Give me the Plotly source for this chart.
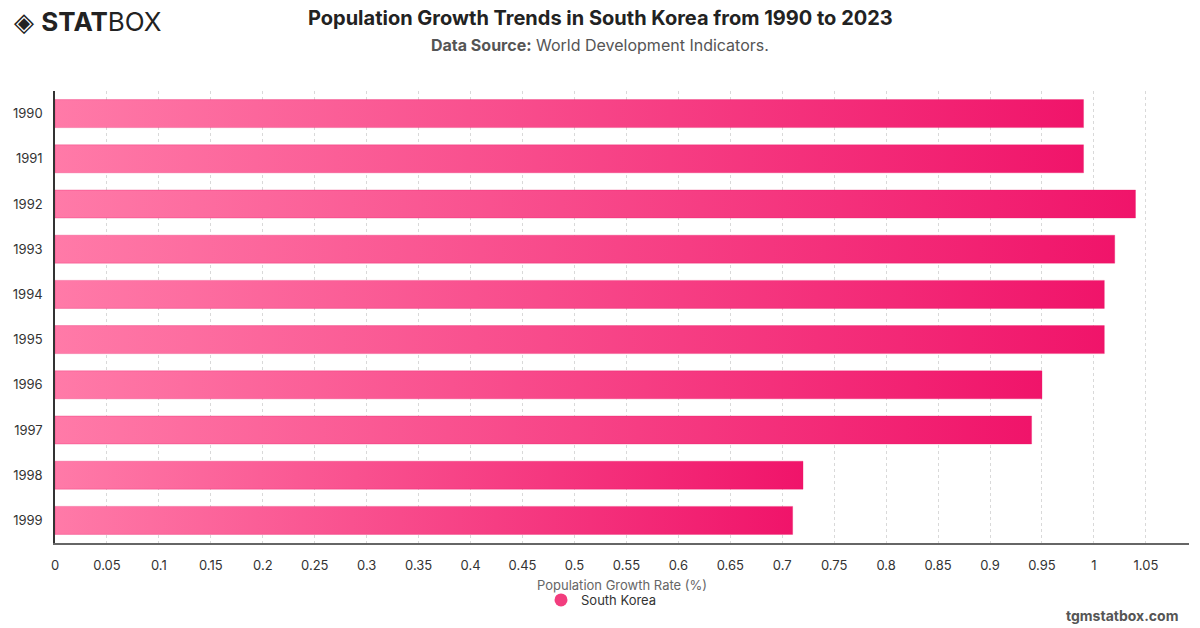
import plotly.graph_objects as go

years = ["1990", "1991", "1992", "1993", "1994", "1995", "1996", "1997", "1998", "1999"]
growth = [0.99, 0.99, 1.04, 1.02, 1.01, 1.01, 0.95, 0.94, 0.72, 0.71]
tick_vals = [round(0.05 * i, 2) for i in range(22)]
tick_text = ["0" if v == 0 else ("1" if v == 1 else f"{v:g}") for v in tick_vals]

half = 0.31
fig = go.Figure()
for i, (yr, v) in enumerate(zip(years, growth)):
    fig.add_trace(go.Scatter(
        x=[0, v, v, 0, 0],
        y=[i - half, i - half, i + half, i + half, i - half],
        mode="lines", fill="toself",
        line=dict(width=0.6, color="rgba(235,20,100,0.5)"),
        fillgradient=dict(type="horizontal",
                          colorscale=[[0, "#ff7aa8"], [1, "#f0146a"]]),
        showlegend=False, hoverinfo="text", text=f"{yr}: {v}",
    ))

fig.add_trace(go.Scatter(
    x=[None], y=[None], mode="markers", name="South Korea",
    marker=dict(symbol="circle", size=13, color="#f23d7e"),
))

fig.update_layout(
    width=1200, height=628,
    margin=dict(l=55, r=11, t=91, b=85),
    plot_bgcolor="white", paper_bgcolor="white",
    font=dict(family="Inter, Roboto, sans-serif", color="#333", size=13),
    xaxis=dict(range=[0, 1.0915], tickvals=tick_vals, ticktext=tick_text,
               showgrid=True, gridcolor="#d9d9d9", griddash="dot", gridwidth=1,
               zeroline=False, showline=True, linecolor="#666", linewidth=1.5,
               ticks="", ticklabelstandoff=10, tickfont=dict(size=13, color="#333")),
    yaxis=dict(range=[len(years) - 0.5, -0.5], tickvals=list(range(len(years))),
               ticktext=years, showgrid=False, zeroline=False,
               showline=True, linecolor="#333", linewidth=1.5, ticks="",
               ticklabelstandoff=8, tickfont=dict(size=13, color="#333")),
    showlegend=True,
    legend=dict(orientation="h", x=(541 - 55) / 1134, xanchor="left", y=-0.126, yanchor="middle",
                font=dict(size=13, color="#333"), itemwidth=30),
)

fig.add_annotation(text="Population Growth Rate (%)", xref="paper", yref="paper",
                   x=0.5, y=-0.0927, xanchor="center", yanchor="middle",
                   showarrow=False, font=dict(size=13, color="#666"))
fig.add_annotation(text="<b>Population Growth Trends in South Korea from 1990 to 2023</b>",
                   xref="paper", yref="paper", x=(600 - 55) / 1134,
                   y=1 + (91 - 18) / 452, xanchor="center", yanchor="middle",
                   showarrow=False, font=dict(size=20, color="#222"))
fig.add_annotation(text="<b>Data Source:</b> World Development Indicators.",
                   xref="paper", yref="paper", x=(600 - 55) / 1134,
                   y=1 + (91 - 45) / 452, xanchor="center", yanchor="middle",
                   showarrow=False, font=dict(size=16, color="#555"))
fig.add_annotation(text="◈ <b>STAT</b>BOX", xref="paper", yref="paper",
                   x=-(55 - 12) / 1134, y=1 + (91 - 21) / 452,
                   xanchor="left", yanchor="middle", showarrow=False,
                   font=dict(size=26, color="#222", family="Inter, sans-serif"))
fig.add_annotation(text="<b>tgmstatbox.com</b>", xref="paper", yref="paper",
                   x=1 + (1180 - 1189) / 1134, y=-(615 - 543) / 452,
                   xanchor="right", yanchor="middle", showarrow=False,
                   font=dict(size=14, color="#555"))

fig.write_html("out.html")
